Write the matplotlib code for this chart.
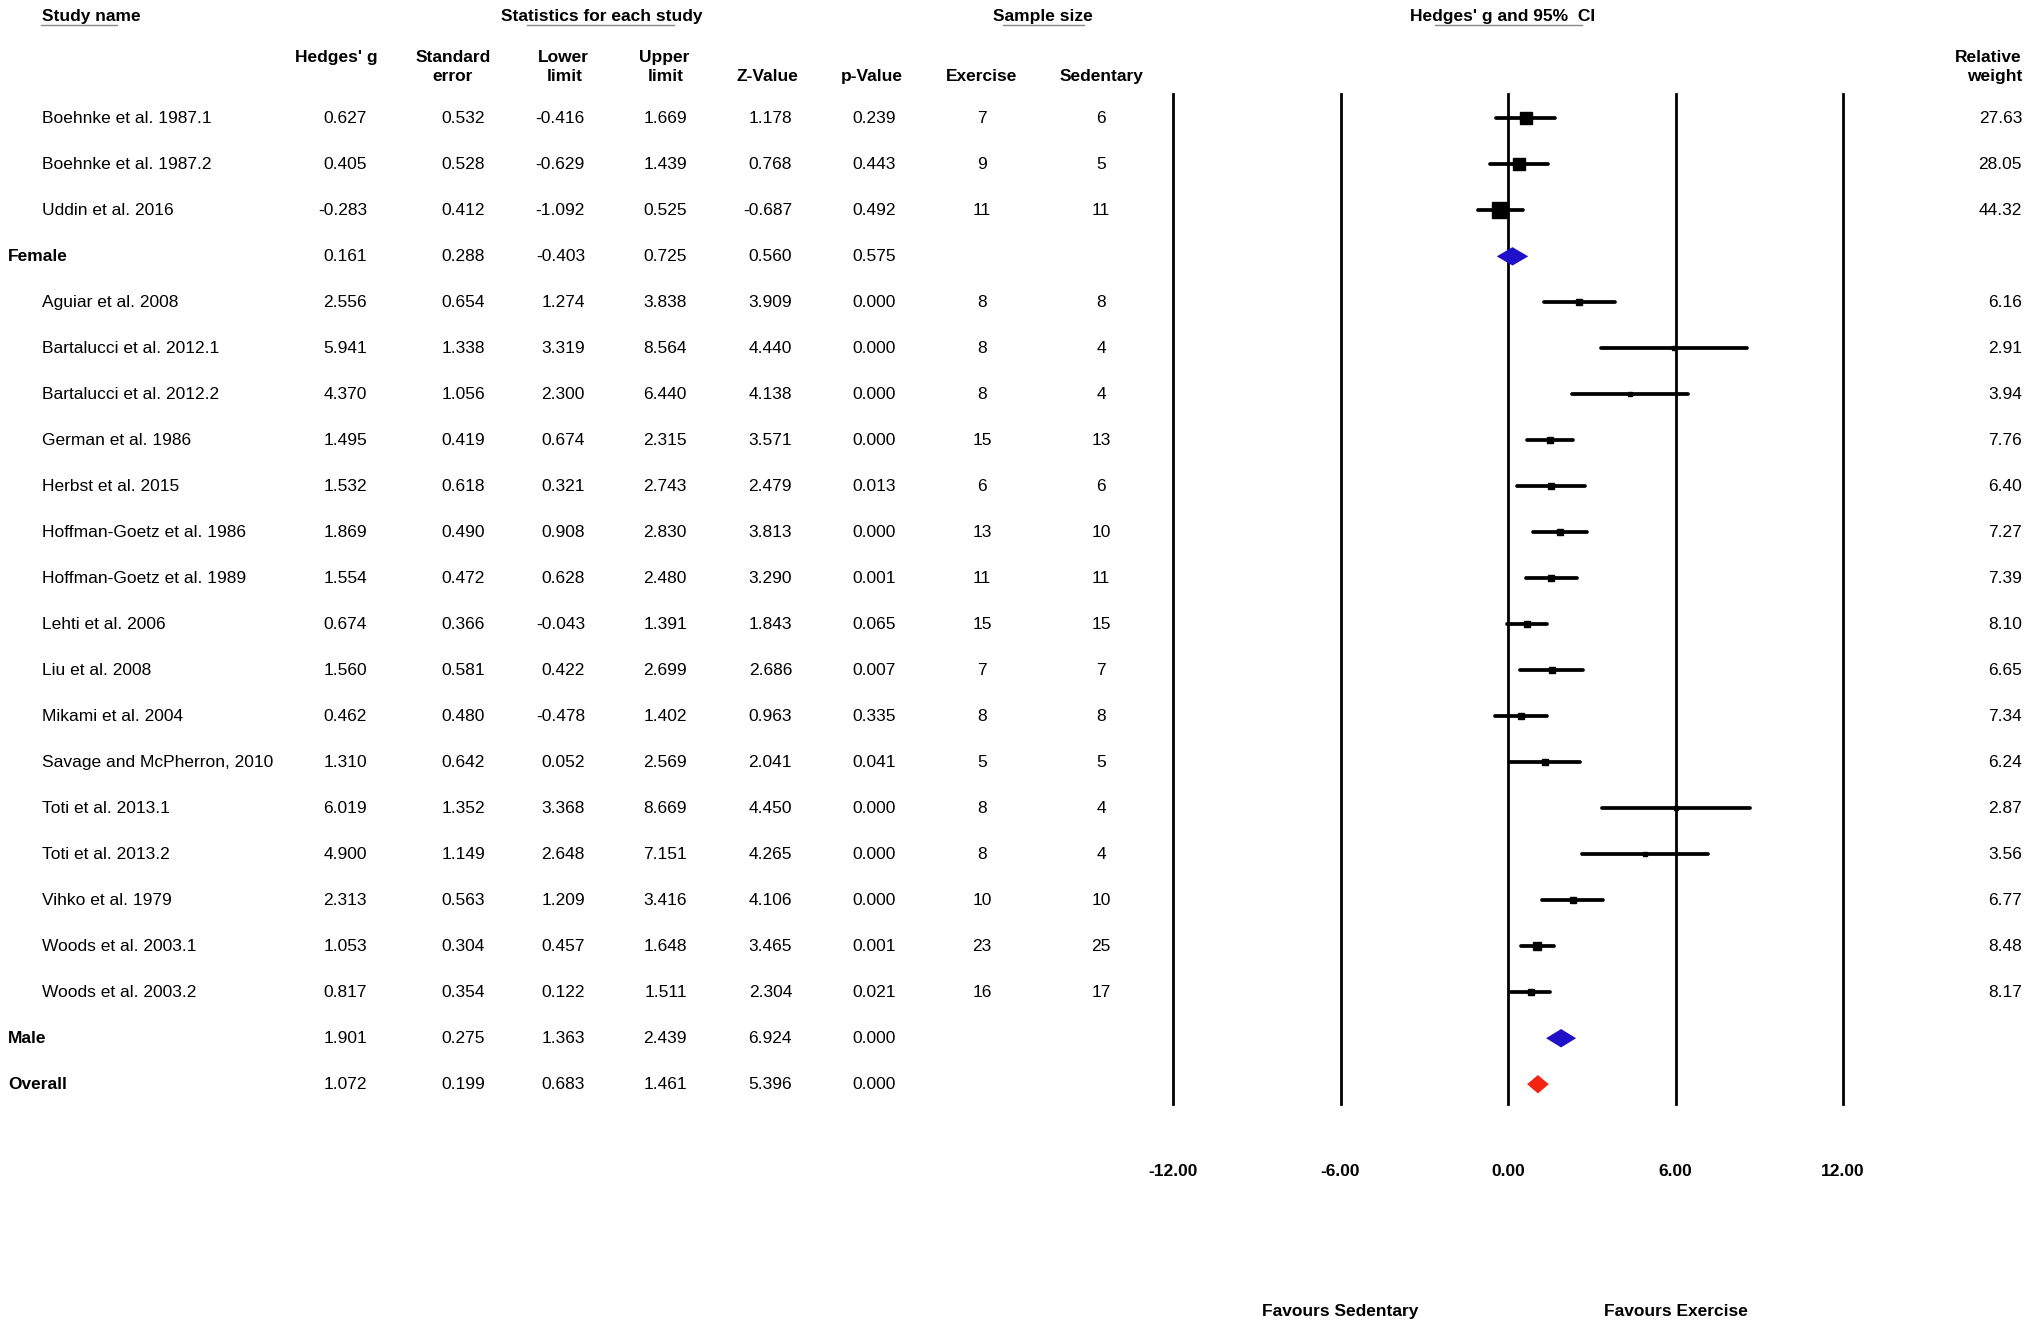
import numpy as np
import matplotlib
matplotlib.use('Agg')
import matplotlib.pyplot as plt
import matplotlib.transforms as mtransforms
from matplotlib.lines import Line2D

plt.rcParams['font.family'] = ['Liberation Sans', 'DejaVu Sans']
plt.rcParams['font.size'] = 12.5

# table data
names = ['Boehnke et al. 1987.1', 'Boehnke et al. 1987.2', 'Uddin et al. 2016', 'Female',
         'Aguiar et al. 2008', 'Bartalucci et al. 2012.1', 'Bartalucci et al. 2012.2',
         'German et al. 1986', 'Herbst et al. 2015', 'Hoffman-Goetz et al. 1986',
         'Hoffman-Goetz et al. 1989', 'Lehti et al. 2006', 'Liu et al. 2008',
         'Mikami et al. 2004', 'Savage and McPherron, 2010', 'Toti et al. 2013.1',
         'Toti et al. 2013.2', 'Vihko et al. 1979', 'Woods et al. 2003.1',
         'Woods et al. 2003.2', 'Male', 'Overall']
hedges_g = [0.627, 0.405, -0.283, 0.161, 2.556, 5.941, 4.370, 1.495, 1.532, 1.869, 1.554,
            0.674, 1.560, 0.462, 1.310, 6.019, 4.900, 2.313, 1.053, 0.817, 1.901, 1.072]
std_err = [0.532, 0.528, 0.412, 0.288, 0.654, 1.338, 1.056, 0.419, 0.618, 0.490, 0.472,
           0.366, 0.581, 0.480, 0.642, 1.352, 1.149, 0.563, 0.304, 0.354, 0.275, 0.199]
lower = [-0.416, -0.629, -1.092, -0.403, 1.274, 3.319, 2.300, 0.674, 0.321, 0.908, 0.628,
         -0.043, 0.422, -0.478, 0.052, 3.368, 2.648, 1.209, 0.457, 0.122, 1.363, 0.683]
upper = [1.669, 1.439, 0.525, 0.725, 3.838, 8.564, 6.440, 2.315, 2.743, 2.830, 2.480,
         1.391, 2.699, 1.402, 2.569, 8.669, 7.151, 3.416, 1.648, 1.511, 2.439, 1.461]
z_value = [1.178, 0.768, -0.687, 0.560, 3.909, 4.440, 4.138, 3.571, 2.479, 3.813, 3.290,
           1.843, 2.686, 0.963, 2.041, 4.450, 4.265, 4.106, 3.465, 2.304, 6.924, 5.396]
p_value = [0.239, 0.443, 0.492, 0.575, 0.000, 0.000, 0.000, 0.000, 0.013, 0.000, 0.001,
           0.065, 0.007, 0.335, 0.041, 0.000, 0.000, 0.000, 0.001, 0.021, 0.000, 0.000]
n_exercise = [7, 9, 11, None, 8, 8, 8, 15, 6, 13, 11, 15, 7, 8, 5, 8, 8, 10, 23, 16, None, None]
n_sedentary = [6, 5, 11, None, 8, 4, 4, 13, 6, 10, 11, 15, 7, 8, 5, 4, 4, 10, 25, 17, None, None]
rel_weight = [27.63, 28.05, 44.32, None, 6.16, 2.91, 3.94, 7.76, 6.40, 7.27, 7.39, 8.10,
              6.65, 7.34, 6.24, 2.87, 3.56, 6.77, 8.48, 8.17, None, None]
summary_colors = {'Female': '#2010c8', 'Male': '#2010c8', 'Overall': '#f42412'}
axis_ticks = [-12, -6, 0, 6, 12]

W, H = 2032, 1332
fig = plt.figure(figsize=(W / 100, H / 100), dpi=100)
ax = fig.add_axes([1173 / W, 1 - 1104 / H, (1843 - 1173) / W, (1104 - 94) / H])
ax.set_xlim(-12, 12)
ax.set_ylim(21.43, -0.53)
for s in ax.spines.values():
    s.set_visible(False)
ax.set_yticks([])
ax.set_xticks(axis_ticks)
ax.set_xticklabels([f'{t:.2f}' for t in axis_ticks], fontweight='bold')
ax.tick_params(axis='x', length=0, pad=43)

for t in axis_ticks:
    ax.axvline(t, color='black', lw=2.0, clip_on=False, zorder=1)

for r, name in enumerate(names):
    if name in summary_colors:
        h = 0.2
        ax.fill([lower[r], hedges_g[r], upper[r], hedges_g[r]], [r, r - h, r, r + h],
                color=summary_colors[name], lw=0, zorder=3)
    else:
        ax.plot([lower[r], upper[r]], [r, r], color='black', lw=2.7,
                solid_capstyle='round', zorder=2)
        ax.plot(hedges_g[r], r, marker='s', color='black', lw=0,
                ms=1.75 * np.sqrt(rel_weight[r]), zorder=3)

# table text, rows follow the forest axes
tr = mtransforms.blended_transform_factory(fig.transFigure, ax.transData)

def col(xpx, y, s, ha='right', bold=False):
    ax.text(xpx / W, y, s, transform=tr, ha=ha, va='center',
            fontweight='bold' if bold else 'normal', clip_on=False)

num_cols = [(367, hedges_g), (485, std_err), (585, lower), (687, upper),
            (792, z_value), (896, p_value)]
for r, name in enumerate(names):
    if name in summary_colors:
        col(8, r, name, ha='left', bold=True)
    else:
        col(42, r, name, ha='left')
        col(982, r, str(n_exercise[r]), ha='center')
        col(1101, r, str(n_sedentary[r]), ha='center')
        col(2022, r, f'{rel_weight[r]:.2f}')
    for xpx, vals in num_cols:
        col(xpx, r, f'{vals[r]:.3f}')

# headers
y_top, y_up, y_lo = -2.21, -1.33, -0.92
col(42, y_top, 'Study name', ha='left', bold=True)
col(602, y_top, 'Statistics for each study', ha='center', bold=True)
col(1043, y_top, 'Sample size', ha='center', bold=True)
col(1503, y_top, "Hedges' g and 95%  CI", ha='center', bold=True)
col(336, y_up, "Hedges' g", ha='center', bold=True)
col(453, y_up, 'Standard', ha='center', bold=True)
col(453, y_lo, 'error', ha='center', bold=True)
col(563, y_up, 'Lower', ha='center', bold=True)
col(565, y_lo, 'limit', ha='center', bold=True)
col(664, y_up, 'Upper', ha='center', bold=True)
col(666, y_lo, 'limit', ha='center', bold=True)
col(767, y_lo, 'Z-Value', ha='center', bold=True)
col(872, y_lo, 'p-Value', ha='center', bold=True)
col(982, y_lo, 'Exercise', ha='center', bold=True)
col(1102, y_lo, 'Sedentary', ha='center', bold=True)
col(2022, y_up, 'Relative', bold=True)
col(2022, y_lo, 'weight', bold=True)

# partial underlines under the group headers
for x0, x1 in [(41, 117), (527, 674), (1003, 1084), (1435, 1582)]:
    fig.add_artist(Line2D([x0 / W, x1 / W], [1 - 25 / H, 1 - 25 / H],
                          color='#888888', lw=1.0, transform=fig.transFigure))

ax.text(-6, 25.95, 'Favours Sedentary', ha='center', va='center', fontweight='bold', clip_on=False)
ax.text(6, 25.95, 'Favours Exercise', ha='center', va='center', fontweight='bold', clip_on=False)

fig.savefig('out.png', dpi=100, facecolor='white')
